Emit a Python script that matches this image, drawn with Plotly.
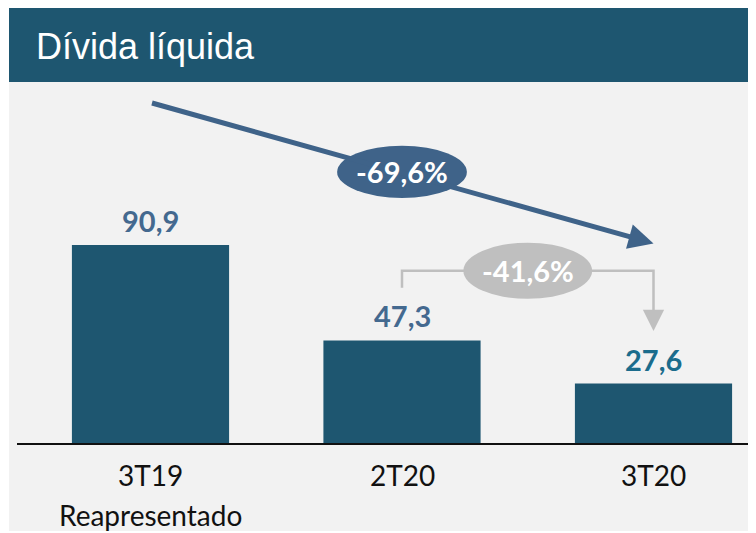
import plotly.graph_objects as go

categories = ["3T19", "2T20", "3T20"]
subtitles = ["Reapresentado", "", ""]
values = [90.9, 47.3, 27.6]
value_labels = ["90,9", "47,3", "27,6"]
label_colors = ["#44698F", "#44698F", "#1B6C8C"]
change_total = "-69,6%"
change_qoq = "-41,6%"

# page body has an 8px margin, so the figure is drawn 8px smaller
W, H = 748, 525
BAR = "#1E5670"

x = list(range(len(categories)))
fig = go.Figure()
fig.add_trace(go.Bar(x=x, y=values, width=0.625, marker=dict(color=BAR, line=dict(width=0)),
                     hoverinfo="skip"))

# value labels
for i, v in enumerate(values):
    fig.add_annotation(x=i, y=v, text="<b>%s</b>" % value_labels[i], showarrow=False,
                       yanchor="bottom", yshift=5,
                       font=dict(family="Lato", size=29, color=label_colors[i]))
# category labels
for i, c in enumerate(categories):
    fig.add_annotation(x=i, y=0, text=c, showarrow=False, yanchor="top", yshift=-12,
                       font=dict(family="Lato", size=28, color="#111111"))
    if subtitles[i]:
        fig.add_annotation(x=i, y=0, text=subtitles[i], showarrow=False, yanchor="top", yshift=-52,
                           font=dict(family="Lato", size=28, color="#111111"))

# big arrow from above first bar to above last bar
x0, y0 = 0.0, values[0] + 65
x1, y1 = 2.0, values[2] + 64
fig.add_annotation(x=x1, y=y1, ax=x0, ay=y0, axref="x", ayref="y", xref="x", yref="y",
                   showarrow=True, arrowhead=2, arrowsize=1.0, arrowwidth=5, arrowcolor="#3F6389",
                   text="")
cx, cy = (x0 + x1) / 2, (y0 + y1) / 2 + 0.5
fig.add_shape(type="circle", x0=cx - 0.258, x1=cx + 0.258, y0=cy - 11.9, y1=cy + 11.9,
              fillcolor="#3F6389", line=dict(width=0))
fig.add_annotation(x=cx, y=cy, text="<b>%s</b>" % change_total, showarrow=False,
                   font=dict(family="Lato", size=29, color="white"))

# gray connector 2T20 -> 3T20
gy_start = values[1] + 24
gy_top = values[1] + 31.8
gy_end = values[2] + 24.0
fig.add_shape(type="path",
              path="M 1 %f L 1 %f L 2 %f L 2 %f" % (gy_start, gy_top, gy_top, gy_end + 4),
              line=dict(color="#BFBFBF", width=2.5))
fig.add_annotation(x=2, y=gy_end, ax=2, ay=gy_end + 6, axref="x", ayref="y",
                   showarrow=True, arrowhead=2, arrowsize=1.7, arrowwidth=2.5,
                   arrowcolor="#BFBFBF", text="")
gcx = 1.5
fig.add_shape(type="circle", x0=gcx - 0.256, x1=gcx + 0.256, y0=gy_top - 12.8, y1=gy_top + 12.8,
              fillcolor="#BFBFBF", line=dict(width=0))
fig.add_annotation(x=gcx, y=gy_top, text="<b>%s</b>" % change_qoq, showarrow=False,
                   font=dict(family="Lato", size=29, color="white"))

# background panels (paper coords, pixel positions inside the figure)
def py(p):
    return 1 - p / H

fig.add_shape(type="rect", xref="paper", yref="paper", x0=1 / W, x1=1, y0=py(523), y1=py(74),
              fillcolor="#F2F2F2", line=dict(width=0), layer="below")
fig.add_shape(type="rect", xref="paper", yref="paper", x0=1 / W, x1=1, y0=py(74), y1=py(0),
              fillcolor="#1E5670", line=dict(width=0), layer="below")
fig.add_annotation(xref="paper", yref="paper", x=26 / W, y=py(38), xanchor="left", yanchor="middle",
                   text="Dívida líquida", showarrow=False,
                   font=dict(family="Liberation Sans", size=36, color="white"))
# baseline
fig.add_shape(type="line", xref="paper", yref="y", x0=9 / W, x1=1, y0=0, y1=0,
              line=dict(color="#111111", width=2))

ppu = 2.19
base = 436
c0 = 142.5
step = 251.5
fig.update_layout(
    width=W, height=H, margin=dict(l=0, r=0, t=0, b=0),
    paper_bgcolor="white", plot_bgcolor="rgba(0,0,0,0)",
    showlegend=False,
    xaxis=dict(range=[(0 - c0) / step, (W - c0) / step], visible=False, fixedrange=True),
    yaxis=dict(range=[-(H - base) / ppu, base / ppu], visible=False, fixedrange=True),
)
fig.write_html("out.html")
